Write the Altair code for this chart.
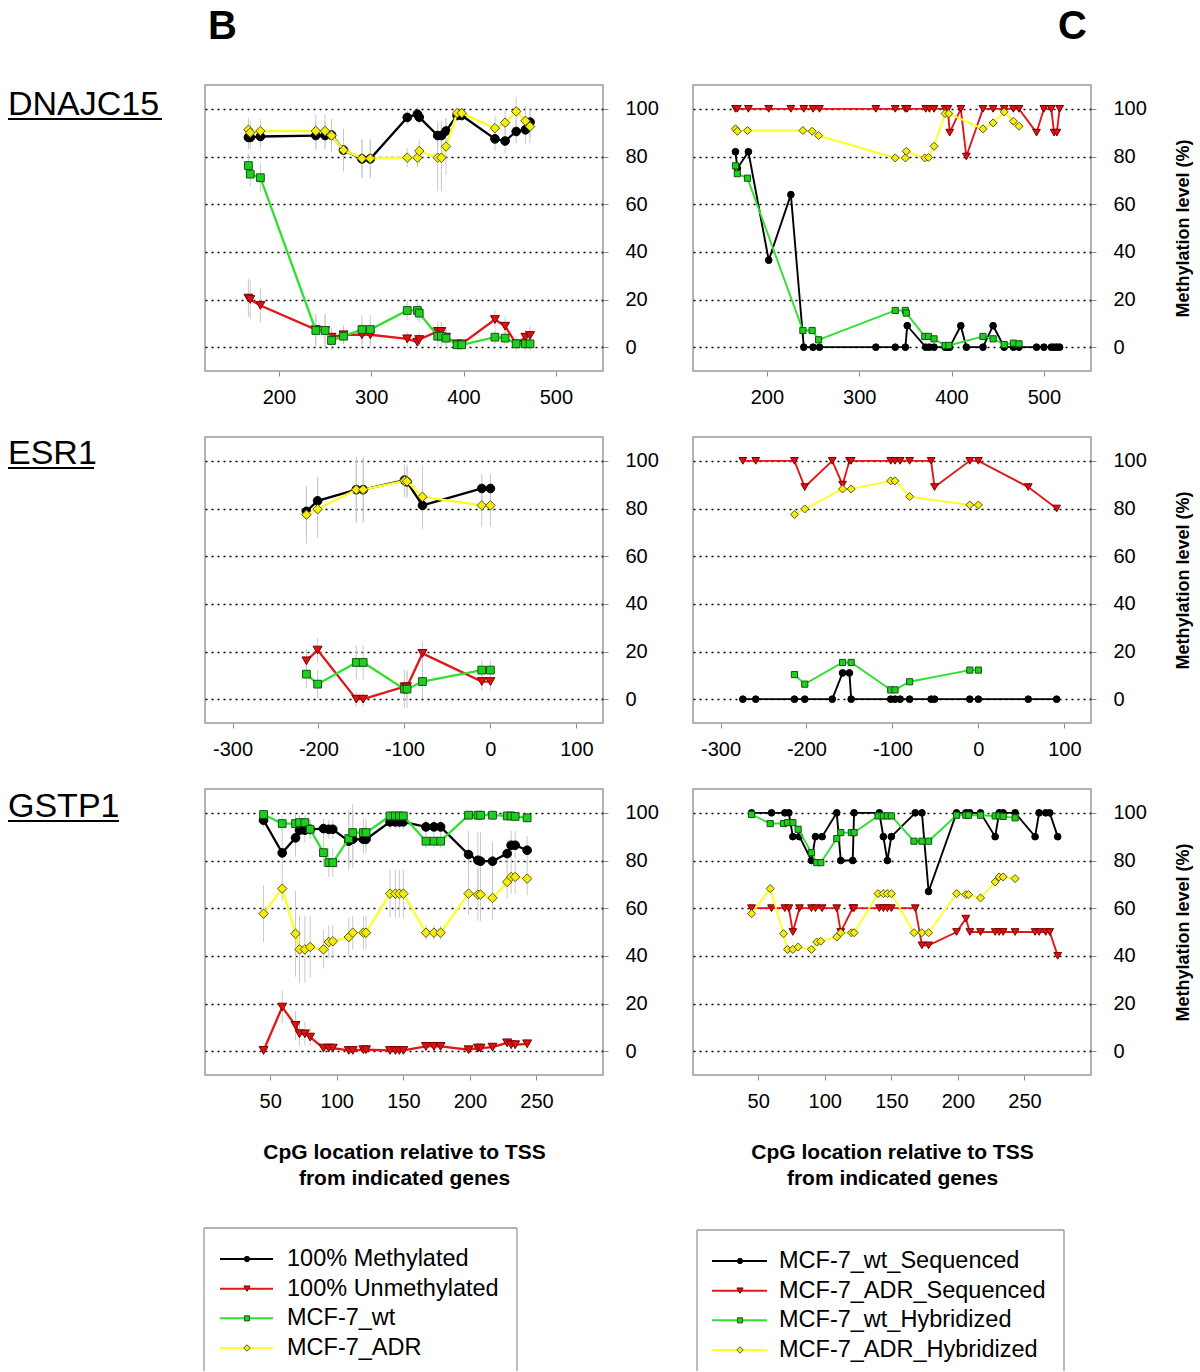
import altair as alt
import pandas as pd

FONT = "Liberation Sans"

# ---------------- DNAJC15 ----------------
# Panel B: hybridization of standards and cell lines
dn_x = [167, 169, 180, 240, 250, 257, 270, 290, 299, 339, 350, 352, 372, 376, 381, 393, 398, 434, 445, 457, 467, 472]
dn_meth = [88, 88, 88.4, 88.8, 88.8, 89, 82.7, 79, 79, 96.4, 97.8, 96.5, 88.8, 88.8, 90.7, 97.2, 97.2, 87.4, 86.5, 90.5, 91.2, 94.4]
dn_unmeth = [20.6, 20, 17.5, 7.4, 7, 4.2, 5.2, 5.2, 5.2, 3.5, 2.1, 3.2, 6.6, 6.6, 4.2, 1.4, 1.4, 11.6, 8.8, 1.4, 4.2, 4.9]
dn_wt = [76.2, 72.6, 71.1, 7.0, 7.0, 2.8, 4.6, 7.4, 7.4, 15.4, 15.4, 14.3, 4.6, 4.6, 3.8, 1, 1, 4.2, 3.8, 1.4, 1.4, 1.4]
dn_adr = [91.2, 90, 90.7, 90.7, 90.7, 88.8, 82.7, 79.2, 79.2, 79.5, 79.5, 82.3, 79.5, 79.5, 84.2, 98.2, 98.2, 91.9, 94.2, 98.9, 95, 92.6]
dn_meth_err = [5, 5, 5, 6, 6, 6, 8, 8, 8, 3, 3, 3, 6, 6, 5, 2, 2, 5, 5, 5, 6, 6]
dn_unmeth_err = [8, 8, 7, 6, 6, 4, 4, 5, 5, 3, 3, 3, 4, 4, 3, 2, 2, 4, 4, 3, 3, 4]
dn_wt_err = [5, 5, 6, 7, 7, 4, 3, 6, 6, 4, 4, 4, 5, 5, 4, 2, 2, 3, 3, 2, 3, 3]
dn_adr_err = [5, 5, 5, 7, 7, 7, 9, 8, 8, 4, 4, 5, 14, 14, 12, 2, 2, 5, 5, 6, 6, 7]

# Panel C: sequencing vs hybridization
dn_seq_x = [166, 168, 180, 202, 226, 240, 250, 257, 318, 339, 350, 352, 372, 376, 381, 393, 396, 398,
            410, 416, 434, 445, 457, 467, 473, 492, 500, 508, 511, 514, 517]
dn_wt_seq = [82, 75, 82, 36.5, 64, 0, 0, 0, 0, 0, 0, 9, 0, 0, 0, 0, 0, 0,
             9, 0, 0, 9, 0, 0, 0, 0, 0, 0, 0, 0, 0]
dn_adr_seq = [100, 100, 100, 100, 100, 100, 100, 100, 100, 100, 100, 100, 100, 100, 100, 100, 100, 90,
              100, 80, 100, 100, 100, 100, 100, 90, 100, 100, 90, 90, 100]
dn_hyb_x = [166, 168, 179, 239, 249, 256, 339, 350, 351, 371, 375, 381, 393, 397, 434, 445, 457, 467, 473]
dn_wt_hyb = [76.1, 72.8, 70.9, 7.0, 7.0, 3.1, 15.4, 15.4, 14.3, 4.5, 4.5, 3.5, 0.7, 0.7, 4.5, 3.5, 1.1, 1.7, 1.4]
dn_adr_hyb = [91.6, 90.6, 90.9, 90.9, 90.6, 88.8, 79.4, 79.4, 82.2, 79.4, 79.6, 84.3, 98, 98, 91.6, 94.1, 98.7, 94.8, 92.7]

# ---------------- ESR1 ----------------
es_x = [-214, -201, -156, -148, -100, -97, -79, -10, 0]
es_meth = [78.8, 83.2, 87.9, 87.9, 91.9, 91.2, 81.3, 88.4, 88.4]
es_unmeth = [16.1, 20.6, 0, 0, 5.2, 5.2, 19.2, 7.4, 7.4]
es_wt = [10.5, 6.3, 15.4, 15.4, 4.2, 4.2, 7.4, 12.2, 12.2]
es_adr = [77.4, 79.7, 87.9, 87.9, 91.6, 91.4, 84.9, 81.3, 81.3]
es_meth_err = [10, 10, 13, 13, 6, 6, 10, 6, 6]
es_unmeth_err = [5, 5, 3, 3, 6, 6, 5, 4, 4]
es_wt_err = [6, 6, 7, 7, 8, 8, 7, 4, 4]
es_adr_err = [12, 12, 14, 14, 7, 7, 13, 9, 9]

es_seq_x = [-274, -259, -214, -202, -170, -158, -150, -148, -102, -97, -91, -80, -55, -51, -10, 0, 58, 91]
es_wt_seq = [0, 0, 0, 0, 0, 11, 11, 0, 0, 0, 0, 0, 0, 0, 0, 0, 0, 0]
es_adr_seq = [100, 100, 100, 89, 100, 90, 100, 100, 100, 100, 100, 100, 100, 89, 100, 100, 89, 80]
es_hyb_x = [-214, -202, -158, -148, -102, -97, -80, -10, 0]
es_wt_hyb = [10.3, 6.3, 15.4, 15.4, 3.9, 3.9, 7.3, 12.2, 12.2]
es_adr_hyb = [77.5, 79.8, 88.2, 88.2, 91.6, 91.6, 85, 81.5, 81.5]

# ---------------- GSTP1 ----------------
gs_x = [45, 59, 69, 72, 76, 80, 90, 94, 97, 109, 112, 120, 122, 140, 144, 147, 150,
        167, 173, 178, 199, 206, 208, 217, 228, 231, 234, 243]
gs_meth = [96.9, 83.2, 89.5, 92.7, 92.7, 93.1, 93.4, 93.1, 93.1, 88.1, 88.9, 88.9, 88.9, 96.2, 96.2, 96.2, 96.2,
           94.1, 94.1, 94.1, 82.5, 80.1, 79.7, 79.7, 82.9, 86.4, 86.4, 84.3]
gs_unmeth = [0.3, 18.5, 10.8, 7.3, 7.3, 5.9, 1.3, 1.3, 1.3, 0.3, 0.3, 0.6, 0.6, 0.3, 0.3, 0.3, 0.3,
             2, 2, 2, 0.6, 1.3, 1.3, 1.7, 3.5, 2.7, 2.7, 3.1]
gs_wt = [99.3, 95.5, 95.5, 95.9, 95.9, 93.1, 83.3, 79.1, 79.1, 89.2, 91.7, 91.7, 91.7, 98.7, 98.7, 98.7, 98.7,
         88.1, 88.1, 88.1, 99, 99, 99, 99, 98.7, 98.7, 98.5, 97.9]
gs_adr = [57.7, 68.2, 49.3, 42.7, 42.7, 43.7, 42.7, 45.8, 46.1, 47.9, 49.7, 49.7, 49.7, 66.1, 66.1, 66.1, 66.1,
          49.7, 49.7, 49.7, 66.1, 65.7, 65.7, 64.3, 71, 73.1, 73.1, 72.4]
gs_meth_err = [3, 10, 8, 5, 5, 4, 4, 4, 4, 12, 12, 6, 6, 3, 3, 3, 3, 3, 3, 3, 10, 12, 12, 8, 6, 6, 6, 6]
gs_unmeth_err = [2, 7, 6, 5, 5, 4, 2, 2, 2, 1, 1, 1, 1, 1, 1, 1, 1, 2, 2, 2, 1, 2, 2, 2, 2, 2, 2, 2]
gs_wt_err = [2, 3, 4, 3, 3, 4, 6, 6, 6, 12, 12, 6, 6, 2, 2, 2, 2, 3, 3, 3, 2, 2, 2, 2, 2, 2, 2, 2]
gs_adr_err = [12, 5, 18, 14, 14, 13, 8, 7, 7, 8, 7, 7, 7, 10, 10, 10, 10, 3, 3, 3, 9, 11, 11, 9, 7, 7, 7, 7]

gs_seq_x = [45, 60, 70, 73, 76, 81, 90, 93, 98, 109, 112, 121, 122, 141, 144, 147, 150, 168, 173, 178,
            199, 206, 209, 217, 228, 231, 234, 243, 258, 261, 266, 269, 275]
gs_wt_seq = [100, 100, 100, 100, 90, 90, 80, 90, 90, 100, 80, 80, 100, 100, 90, 80, 90, 100, 100, 67,
             100, 100, 100, 100, 90, 100, 100, 100, 90, 100, 100, 100, 90]
gs_adr_seq = [60, 60, 60, 60, 50, 60, 60, 60, 60, 60, 50, 60, 60, 60, 60, 60, 60, 60, 44.4, 44.4,
              50, 55.6, 50, 50, 50, 50, 50, 50, 50, 50, 50, 50, 40]

GENES = ["DNAJC15", "ESR1", "GSTP1"]
PANEL_TAGS = ["B", "C"]
LEGEND_B = ["100% Methylated", "100% Unmethylated", "MCF-7_wt", "MCF-7_ADR"]
LEGEND_C = ["MCF-7_wt_Sequenced", "MCF-7_ADR_Sequenced", "MCF-7_wt_Hybridized", "MCF-7_ADR_Hybridized"]
Y_TICKS = [0, 20, 40, 60, 80, 100]
X_TITLE = ["CpG location relative to TSS", "from indicated genes"]
Y_TITLE = "Methylation level (%)"

# marker / line styles for the four series (black, red, green, yellow)
STYLES = [
    dict(line="#000000", fill="#000000", stroke="#000000", shape="circle"),
    dict(line="#e01818", fill="#e01010", stroke="#7a0000", shape="triangle-down"),
    dict(line="#2fe02f", fill="#1ed01e", stroke="#145214", shape="square"),
    dict(line="#ffff22", fill="#f4ec10", stroke="#5a5a10", shape="diamond"),
]
SIZES_B = [75, 80, 60, 90]
SIZES_C = [45, 60, 38, 65]
W, H = 398, 286


def panel(series, xdom, xticks, sizes, lw, errs=None, xtitle=None, ytitle=None, notes=()):
    xenc = alt.X("x:Q", scale=alt.Scale(domain=xdom, nice=False, zero=False),
                 axis=alt.Axis(values=xticks, title=xtitle, grid=False, labelExpr="'' + datum.value",
                               titleFontSize=21, titleFontWeight="bold", titlePadding=30,
                               titleLineHeight=26, labelPadding=11))
    yscale = alt.Scale(domain=[-10, 110], nice=False, zero=False)
    yaxis = alt.Axis(values=Y_TICKS, orient="right", title=ytitle, grid=True, gridDash=[2, 4],
                     gridColor="#000000", gridWidth=1.5, gridOpacity=1, labelPadding=17,
                     titleFontSize=18, titleFontWeight="bold", titleAngle=270, titlePadding=46)
    layers = []
    if errs is not None:
        for (sx, sy), e in zip(series, errs):
            df = pd.DataFrame({"x": sx, "lo": [v - d for v, d in zip(sy, e)],
                               "hi": [v + d for v, d in zip(sy, e)]})
            layers.append(alt.Chart(df).mark_rule(color="#c9c9c9", strokeWidth=1).encode(
                x=xenc, y=alt.Y("lo:Q", scale=yscale, axis=yaxis), y2="hi:Q"))
    for (sx, sy), st, sz in zip(series, STYLES, sizes):
        df = pd.DataFrame({"x": sx, "y": sy})
        base = alt.Chart(df).encode(x=xenc, y=alt.Y("y:Q", scale=yscale, axis=yaxis))
        layers.append(base.mark_line(color=st["line"], strokeWidth=lw))
        layers.append(base.mark_point(shape=st["shape"], filled=True, fill=st["fill"], stroke=st["stroke"],
                                      strokeWidth=1, size=sz, opacity=1))
    layers.extend(notes)
    return alt.layer(*layers).properties(width=W, height=H)


def gene_label(name, baseline_y, underline_w):
    t = alt.Chart(pd.DataFrame({"t": [name]})).mark_text(
        align="left", baseline="alphabetic", font=FONT, fontSize=34, color="#000000"
    ).encode(text="t:N", x=alt.value(-197), y=alt.value(baseline_y))
    u = alt.Chart(pd.DataFrame({"t": [name]})).mark_rule(color="#000000", strokeWidth=2.2).encode(
        x=alt.value(-197), x2=alt.value(-197 + underline_w), y=alt.value(baseline_y + 4))
    return [t, u]


def tag_label(tag, x, align):
    return alt.Chart(pd.DataFrame({"t": [tag]})).mark_text(
        align=align, baseline="alphabetic", font=FONT, fontSize=40, fontWeight="bold", color="#000000"
    ).encode(text="t:N", x=alt.value(x), y=alt.value(-46))


def legend(labels, line_x, mark_x, text_x, y0, box_x, box_top):
    df = pd.DataFrame({"idx": list(range(len(labels))), "label": labels})
    yenc = alt.Y("idx:Q", scale=alt.Scale(domain=[0, 3], range=[y0, y0 + 89]), axis=None)
    layers = [
        alt.Chart(df.head(1)).mark_rule(color="#9a9a9a", strokeWidth=1.3).encode(
            x=alt.value(box_x[0]), x2=alt.value(box_x[1]), y=alt.value(box_top)),
        alt.Chart(df.head(1)).mark_rule(color="#9a9a9a", strokeWidth=1.3).encode(
            x=alt.value(box_x[0]), y=alt.value(box_top), y2=alt.value(230)),
        alt.Chart(df.head(1)).mark_rule(color="#9a9a9a", strokeWidth=1.3).encode(
            x=alt.value(box_x[1]), y=alt.value(box_top), y2=alt.value(230)),
    ]
    small = [28, 38, 26, 42]
    for i, (st, sz) in enumerate(zip(STYLES, small)):
        d = df.iloc[[i]]
        layers.append(alt.Chart(d).mark_rule(color=st["line"], strokeWidth=2).encode(
            x=alt.value(line_x[0]), x2=alt.value(line_x[1]), y=yenc))
        layers.append(alt.Chart(d).mark_point(shape=st["shape"], filled=True, fill=st["fill"],
                                              stroke=st["stroke"], strokeWidth=1, size=sz, opacity=1).encode(
            x=alt.value(mark_x), y=yenc))
    layers.append(alt.Chart(df).mark_text(align="left", baseline="middle", font=FONT, fontSize=23.5,
                                          color="#000000").encode(x=alt.value(text_x), y=yenc, text="label:N"))
    return alt.layer(*layers).properties(width=W, height=230, view=alt.ViewBackground(stroke=None))


DN_DOM = [120, 551]
ES_DOM = [-332, 131]
GS_DOM = [1, 300]

dn_b = panel([(dn_x, dn_meth), (dn_x, dn_unmeth), (dn_x, dn_wt), (dn_x, dn_adr)],
             DN_DOM, [200, 300, 400, 500], SIZES_B, 2.3,
             errs=[dn_meth_err, dn_unmeth_err, dn_wt_err, dn_adr_err],
             notes=gene_label(GENES[0], 30, 154) + [tag_label(PANEL_TAGS[0], 3, "left")])
dn_c = panel([(dn_seq_x, dn_wt_seq), (dn_seq_x, dn_adr_seq), (dn_hyb_x, dn_wt_hyb), (dn_hyb_x, dn_adr_hyb)],
             DN_DOM, [200, 300, 400, 500], SIZES_C, 1.9, ytitle=Y_TITLE,
             notes=[tag_label(PANEL_TAGS[1], 394, "right")])

es_b = panel([(es_x, es_meth), (es_x, es_unmeth), (es_x, es_wt), (es_x, es_adr)],
             ES_DOM, [-300, -200, -100, 0, 100], SIZES_B, 2.3,
             errs=[es_meth_err, es_unmeth_err, es_wt_err, es_adr_err],
             notes=gene_label(GENES[1], 27, 86))
es_c = panel([(es_seq_x, es_wt_seq), (es_seq_x, es_adr_seq), (es_hyb_x, es_wt_hyb), (es_hyb_x, es_adr_hyb)],
             ES_DOM, [-300, -200, -100, 0, 100], SIZES_C, 1.9, ytitle=Y_TITLE)

gs_b = panel([(gs_x, gs_meth), (gs_x, gs_unmeth), (gs_x, gs_wt), (gs_x, gs_adr)],
             GS_DOM, [50, 100, 150, 200, 250], SIZES_B, 2.3,
             errs=[gs_meth_err, gs_unmeth_err, gs_wt_err, gs_adr_err], xtitle=X_TITLE,
             notes=gene_label(GENES[2], 28, 111))
gs_c = panel([(gs_seq_x, gs_wt_seq), (gs_seq_x, gs_adr_seq), (gs_x, gs_wt), (gs_x, gs_adr)],
             GS_DOM, [50, 100, 150, 200, 250], SIZES_C, 1.9, xtitle=X_TITLE, ytitle=Y_TITLE)

leg_b = legend(LEGEND_B, (15, 68), 42, 82, 118, (-1, 312), 87)
leg_c = legend(LEGEND_C, (19, 74), 47, 86, 120, (4, 371), 89)

chart = alt.concat(
    dn_b, dn_c, es_b, es_c, gs_b, gs_c, leg_b, leg_c,
    columns=2, spacing={"row": 66, "column": 90}, bounds="flush",
).properties(
    padding={"left": 6, "top": 6, "right": 0, "bottom": 0},
    background="#ffffff",
).configure_view(
    stroke="#9a9a9a", strokeWidth=1.5
).configure_axis(
    labelFont=FONT, titleFont=FONT, labelFontSize=20, labelColor="#000000", titleColor="#000000",
    tickColor="#8a8a8a", tickSize=5, tickWidth=1, domain=False
)

chart.save("out.html", embed_options={"renderer": "svg", "actions": False})
